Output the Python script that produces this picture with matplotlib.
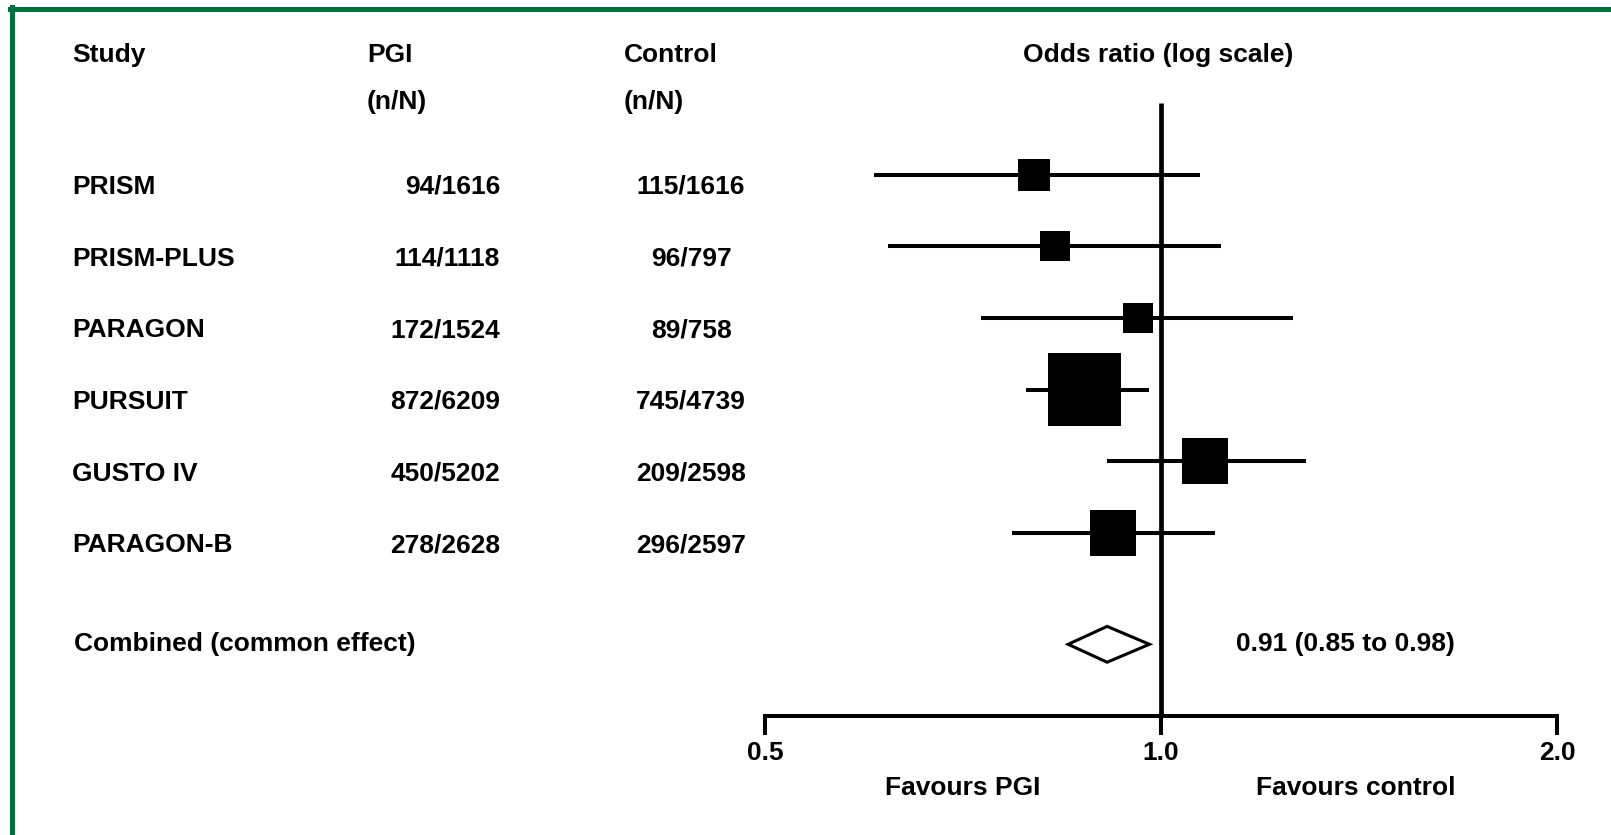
import matplotlib
matplotlib.use("Agg")
import matplotlib.pyplot as plt
import matplotlib.transforms as mtransforms
from matplotlib.patches import Polygon
import numpy as np

# ---- data ----
studies = ["PRISM", "PRISM-PLUS", "PARAGON", "PURSUIT", "GUSTO IV", "PARAGON-B"]
pgi_nN = ["94/1616", "114/1118", "172/1524", "872/6209", "450/5202", "278/2628"]
control_nN = ["115/1616", "96/797", "89/758", "745/4739", "209/2598", "296/2597"]
odds_ratio = [0.80, 0.83, 0.96, 0.875, 1.08, 0.92]
ci_low = [0.605, 0.62, 0.73, 0.79, 0.91, 0.77]
ci_high = [1.07, 1.11, 1.26, 0.98, 1.29, 1.10]
box_side_px = [32, 30, 30, 73, 46, 46]   # box size reflects study weight

combined_label = "Combined (common effect)"
combined_or = 0.91
combined_low = 0.85
combined_high = 0.98
combined_text = "0.91 (0.85 to 0.98)"

xticks = [0.5, 1.0, 2.0]
xtick_labels = ["0.5", "1.0", "2.0"]

# ---- style ----
FONT = ["Liberation Sans", "DejaVu Sans"]
plt.rcParams["font.family"] = FONT
plt.rcParams["font.weight"] = "bold"
FS = 19
W, H = 1611, 835
fig = plt.figure(figsize=(W / 100, H / 100), dpi=100)

# forest axes placed in pixel coordinates
x0, x1 = 765, 1557
y_top, y_bot = 103, 716
ax = fig.add_axes([x0 / W, 1 - y_bot / H, (x1 - x0) / W, (y_bot - y_top) / H])
ax.set_xscale("log")
ax.set_xlim(0.5, 2.0)
ax.set_ylim(7.55, -1.0)
for s in ["top", "right", "left"]:
    ax.spines[s].set_visible(False)
ax.spines["bottom"].set_linewidth(2.9)
ax.set_yticks([])
ax.set_xticks(xticks)
ax.set_xticks([], minor=True)
ax.set_xticklabels(xtick_labels, fontsize=FS, fontweight="bold")
ax.tick_params(axis="x", direction="out", length=14, width=2.9, pad=4, labelsize=FS)
ax.patch.set_alpha(0)

rows = np.arange(len(studies))
# no-effect line
ax.plot([1, 1], [-1.0, 7.55], color="black", lw=3.4, solid_capstyle="butt", clip_on=False, zorder=2)
# CIs
ax.hlines(rows, ci_low, ci_high, color="black", lw=2.9, zorder=3)
# boxes
sizes = [(s * 0.72) ** 2 for s in box_side_px]
ax.scatter(odds_ratio, rows, s=sizes, marker="s", color="black", linewidths=0, zorder=4)

# combined diamond
yc = 6.55
hd = 0.25
diamond = Polygon([(combined_low, yc), (combined_or, yc - hd), (combined_high, yc), (combined_or, yc + hd)],
                  closed=True, facecolor="white", edgecolor="black", lw=2.2, zorder=4)
ax.add_patch(diamond)

# text columns
trans = mtransforms.blended_transform_factory(fig.transFigure, ax.transData)
toff = 0.17
for i, (st, p, c) in enumerate(zip(studies, pgi_nN, control_nN)):
    fig.text(72 / W, i + toff, st, transform=trans, ha="left", va="center", fontsize=FS)
    fig.text(500 / W, i + toff, p, transform=trans, ha="right", va="center", fontsize=FS)
    fig.text(691 / W, i + toff, c, transform=trans, ha="center", va="center", fontsize=FS)
fig.text(74 / W, yc, combined_label, transform=trans, ha="left", va="center", fontsize=FS)
fig.text(1236 / W, yc, combined_text, transform=trans, ha="left", va="center", fontsize=FS)

# headers
fig.text(72 / W, 1 - 55 / H, "Study", ha="left", va="center", fontsize=FS)
fig.text(367 / W, 1 - 55 / H, "PGI", ha="left", va="center", fontsize=FS)
fig.text(367 / W, 1 - 102 / H, "(n/N)", ha="left", va="center", fontsize=FS)
fig.text(624 / W, 1 - 55 / H, "Control", ha="left", va="center", fontsize=FS)
fig.text(624 / W, 1 - 102 / H, "(n/N)", ha="left", va="center", fontsize=FS)
fig.text(1158 / W, 1 - 55 / H, "Odds ratio (log scale)", ha="center", va="center", fontsize=FS)

# favours labels
fig.text(963 / W, 1 - 788 / H, "Favours PGI", ha="center", va="center", fontsize=FS)
fig.text(1356 / W, 1 - 788 / H, "Favours control", ha="center", va="center", fontsize=FS)

# green frame (top and left)
green = "#00703c"
fig.add_artist(plt.Line2D([10 / W, 1], [1 - 9 / H, 1 - 9 / H], color=green, lw=3.6, transform=fig.transFigure))
fig.add_artist(plt.Line2D([12 / W, 12 / W], [0, 1 - 7 / H], color=green, lw=3.6, transform=fig.transFigure))

fig.savefig("out.png", dpi=100, facecolor="white")
